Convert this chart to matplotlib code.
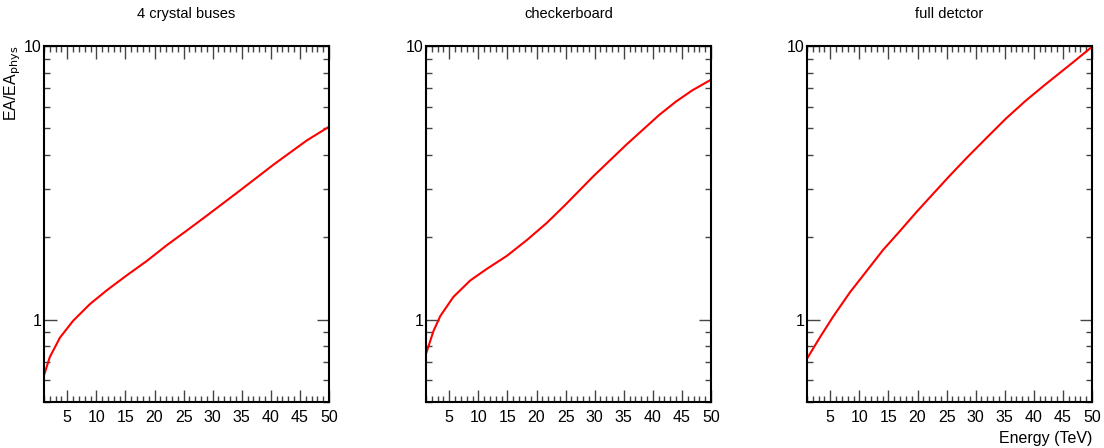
import numpy as np
import matplotlib
matplotlib.use('Agg')
import matplotlib.pyplot as plt
from matplotlib.ticker import LogLocator, FixedLocator, MultipleLocator, NullFormatter

plt.rcParams['font.family'] = ['Liberation Sans', 'DejaVu Sans']

titles = ['4 crystal buses', 'checkerboard', 'full detctor']

# values (energy in TeV, EA/EA_phys)
e_buses = [1.0, 2.0, 3.75, 6.0, 8.9, 11.8, 15.2, 18.7, 22.1, 25.6, 29.0,
           34.7, 40.5, 46.2, 50.0]
r_buses = [0.626, 0.73, 0.86, 0.99, 1.14, 1.28, 1.45, 1.64, 1.87, 2.12, 2.40,
           2.965, 3.69, 4.52, 5.07]

e_checker = [1.0, 2.3, 3.45, 5.7, 8.6, 11.4, 14.9, 18.3, 21.7, 24.9, 29.7,
             35.4, 41.1, 44.0, 46.8, 50.0]
r_checker = [0.75, 0.91, 1.03, 1.21, 1.39, 1.53, 1.71, 1.95, 2.25, 2.62, 3.33,
             4.35, 5.60, 6.27, 6.89, 7.53]

e_full = [1.0, 3.27, 5.55, 8.4, 11.3, 14.1, 17.0, 19.8, 22.6, 25.5, 28.4,
          31.8, 35.2, 38.6, 42.0, 46.6, 50.0]
r_full = [0.72, 0.865, 1.03, 1.26, 1.51, 1.80, 2.11, 2.47, 2.87, 3.35, 3.89,
          4.60, 5.43, 6.31, 7.24, 8.67, 9.93]

series = [(e_buses, r_buses), (e_checker, r_checker), (e_full, r_full)]

fig = plt.figure(figsize=(11.04, 4.48), dpi=100)
lefts = [44, 426, 807]
w = 285
for i, (x, y) in enumerate(series):
    ax = fig.add_axes([lefts[i] / 1104, 1 - 402 / 448, w / 1104, 356 / 448])
    ax.plot(x, y, color='#ff0000', lw=1.5)
    ax.set_yscale('log')
    ax.set_xlim(1, 50)
    ax.set_ylim(0.5, 10)
    ax.xaxis.set_major_locator(MultipleLocator(5))
    ax.xaxis.set_minor_locator(MultipleLocator(1))
    ax.yaxis.set_major_locator(FixedLocator([1, 10]))
    ax.yaxis.set_minor_locator(LogLocator(base=10, subs=np.arange(2, 10)))
    ax.yaxis.set_minor_formatter(NullFormatter())
    ax.set_yticklabels(['1', '10'])
    ax.tick_params(which='both', direction='in', top=True, right=True,
                   labelsize=11.5, color='#444444')
    ax.tick_params(which='major', length=9, width=1)
    ax.tick_params(which='minor', length=4.5, width=1)
    ax.tick_params(axis='x', pad=6)
    ax.tick_params(axis='y', pad=1.5)
    for s in ax.spines.values():
        s.set_linewidth(1.5)
    ax.set_title(titles[i], fontsize=10.5, pad=20)
    if i == 0:
        ax.set_ylabel('EA/EA$_{\\mathrm{phys}}$', fontsize=11.5, loc='top')
        ax.yaxis.set_label_coords(-0.072, 1.0)
    if i == 2:
        ax.set_xlabel('Energy (TeV)', fontsize=11.5, loc='right', labelpad=4)

fig.savefig('out.png', dpi=100, facecolor='white')
